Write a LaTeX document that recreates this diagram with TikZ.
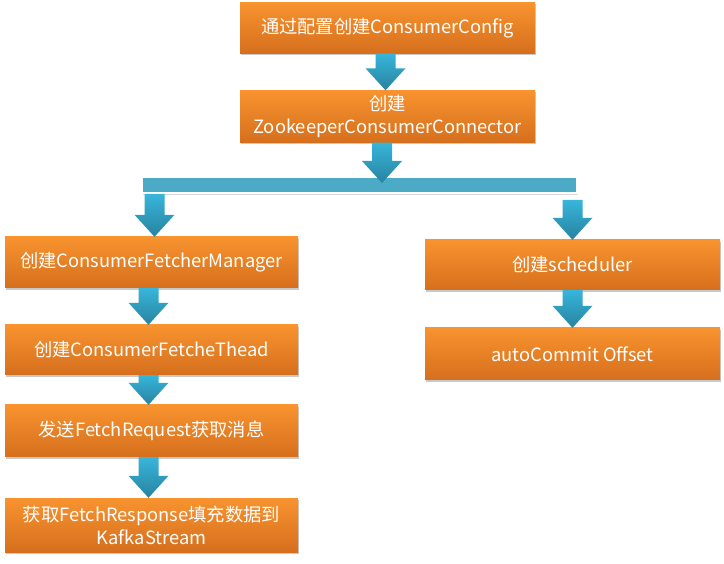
\documentclass[tikz,border=0pt]{standalone}
\usepackage{fontspec}
\setmainfont{Noto Sans CJK SC}
\usetikzlibrary{shadows,calc}
\definecolor{orTop}{HTML}{F8932F}
\definecolor{orBot}{HTML}{D66F1D}
\definecolor{arTop}{HTML}{38B5DA}
\definecolor{arBot}{HTML}{2783A0}
\definecolor{barC}{HTML}{4BABC6}
\tikzset{
  box/.style={rectangle, top color=orTop, bottom color=orBot, draw=none,
    text=white, font=\fontsize{18.3}{23}\selectfont, align=center, inner sep=2pt,
    drop shadow={shadow xshift=1pt, shadow yshift=-2pt, opacity=.35, fill=black!60}},
  arrowfill/.style={top color=arTop, bottom color=arBot, draw=none},
  barstyle/.style={rectangle, fill=barC, draw=white, line width=2pt, minimum width=435pt, minimum height=16pt, inner sep=0pt,
    drop shadow={shadow xshift=1pt, shadow yshift=-2pt, opacity=.25, fill=black!60}}
}
\newcommand\barrow[2]{%
  \path[arrowfill] let \p1=#1, \p2=#2 in
    (\x2-10pt,\y1) -- (\x2+10pt,\y1) -- (\x2+10pt,\y2+22pt) -- (\x2+20pt,\y2+22pt)
    -- (\x2,\y2) -- (\x2-20pt,\y2+22pt) -- (\x2-10pt,\y2+22pt) -- cycle;}
\begin{document}
\begin{tikzpicture}[x=1pt,y=-1pt]
\useasboundingbox[fill=white] (0,0) rectangle (724,564);
% nodes
\node[box, minimum width=295pt, minimum height=51pt] (b1) at (387.5,28) {通过配置创建ConsumerConfig};
\node[box, minimum width=295pt, minimum height=52pt] (b2) at (387.5,116.5) {创建\\ZookeeperConsumerConnector};
\node[barstyle] (bar) at (359.5,185) {};
\node[box, minimum width=293pt, minimum height=51pt] (l1) at (151.5,262.5) {创建ConsumerFetcherManager};
\node[box, minimum width=293pt, minimum height=50pt] (l2) at (151.5,350) {创建ConsumerFetcheThead};
\node[box, minimum width=293pt, minimum height=52pt] (l3) at (151.5,431) {发送FetchRequest获取消息};
\node[box, minimum width=293pt, minimum height=54pt] (l4) at (151.5,525) {获取FetchResponse填充数据到\\KafkaStream};
\node[box, minimum width=295pt, minimum height=50pt] (r1) at (572.5,265) {创建scheduler};
\node[box, minimum width=295pt, minimum height=52pt] (r2) at (572.5,354) {autoCommit Offset};
\coordinate (rtop) at (572.5,200);
\coordinate (btip) at (382,183);
% connectors
\barrow{(b1.south)}{($(b2.north)+(-2,0)$)}
\barrow{(b2.south)}{(btip)}
\barrow{(bar.south -| l1.north)}{($(l1.north)+(3,0)$)}
\barrow{(rtop)}{(r1.north)}
\barrow{(l1.south)}{($(l2.north)+(-3,0)$)}
\barrow{(l2.south)}{($(l3.north)+(-3,0)$)}
\barrow{(l3.south)}{($(l4.north)+(-3,0)$)}
\barrow{(r1.south)}{(r2.north)}
\end{tikzpicture}
\end{document}
